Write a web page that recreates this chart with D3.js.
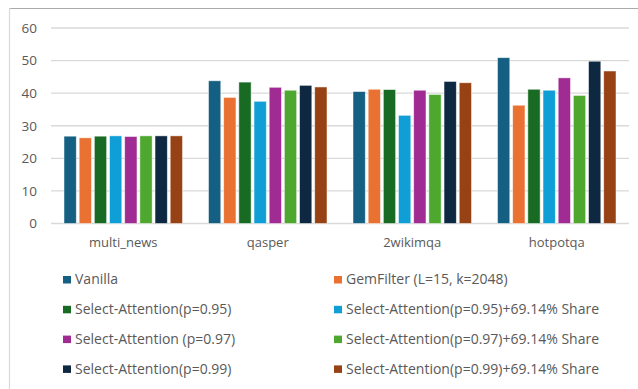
<!DOCTYPE html>
<html>
<head>
<meta charset="utf-8">
<script src="https://cdn.jsdelivr.net/npm/d3@7"></script>
<style>
  html, body { margin: 0; padding: 0; background: #fff; }
  svg { display: block; }
  text { font-family: "Open Sans", "Liberation Sans", sans-serif; fill: #595959; }
</style>
</head>
<body>
<svg id="chart" width="638" height="389"></svg>
<script>
// Datasets on the x axis
const datasets = ["multi_news", "qasper", "2wikimqa", "hotpotqa"];

// Method names (legend order = bar order within each group)
const methods = [
  "Vanilla",
  "GemFilter (L=15, k=2048)",
  "Select-Attention(p=0.95)",
  "Select-Attention(p=0.95)+69.14% Share",
  "Select-Attention (p=0.97)",
  "Select-Attention(p=0.97)+69.14% Share",
  "Select-Attention(p=0.99)",
  "Select-Attention(p=0.99)+69.14% Share"
];

// Scores per method, one value per dataset
const vanilla      = [26.8, 43.8, 40.5, 50.9];
const gemFilter    = [26.3, 38.7, 41.2, 36.3];
const sa095        = [26.8, 43.4, 41.1, 41.2];
const sa095Share   = [26.9, 37.5, 33.2, 40.9];
const sa097        = [26.7, 41.8, 40.9, 44.7];
const sa097Share   = [26.9, 40.9, 39.6, 39.3];
const sa099        = [26.9, 42.4, 43.6, 49.8];
const sa099Share   = [26.9, 41.9, 43.2, 46.8];

const yTicks = [0, 10, 20, 30, 40, 50, 60];

const colors = ["#156082", "#E97132", "#196B24", "#0F9ED5",
                "#A02B93", "#4EA72E", "#0E2841", "#974214"];

const seriesValues = [vanilla, gemFilter, sa095, sa095Share, sa097, sa097Share, sa099, sa099Share];

const svg = d3.select("#chart");
const font = "'Open Sans', 'Liberation Sans', sans-serif";

// Chart frame
svg.append("line").attr("x1", 9.5).attr("x2", 638).attr("y1", 8.5).attr("y2", 8.5)
  .attr("stroke", "#ababab").attr("stroke-width", 1);
svg.append("line").attr("x1", 9.5).attr("x2", 9.5).attr("y1", 8.5).attr("y2", 389)
  .attr("stroke", "#d9d9d9").attr("stroke-width", 1.2);

const plotLeft = 51, plotRight = 629, plotTop = 28, plotBottom = 223.5;

const x0 = d3.scaleBand().domain(datasets).range([plotLeft, plotRight])
  .paddingInner(0.18).paddingOuter(0.09);
const x1 = d3.scaleBand().domain(d3.range(methods.length)).range([0, x0.bandwidth()])
  .paddingInner(0.19).paddingOuter(0);
const y = d3.scaleLinear().domain([0, 60]).range([plotBottom, plotTop]);

// Gridlines
svg.append("g").selectAll("line").data(yTicks).join("line")
  .attr("x1", plotLeft).attr("x2", plotRight)
  .attr("y1", d => y(d)).attr("y2", d => y(d))
  .attr("stroke", "#d9d9d9").attr("stroke-width", 1.3);

// Y axis labels
const yAxis = d3.axisLeft(y).tickValues(yTicks).tickSize(0).tickPadding(0);
const yg = svg.append("g").attr("transform", `translate(37,0)`).call(yAxis);
yg.select(".domain").remove();
yg.selectAll("text").attr("font-size", 13.5).style("fill", "#595959")
  .style("font-family", font);

// X axis labels
const xAxis = d3.axisBottom(x0).tickSize(0).tickPadding(0);
const xg = svg.append("g").attr("transform", `translate(0,${plotBottom + 14})`).call(xAxis);
xg.select(".domain").remove();
xg.selectAll("text").attr("font-size", 13).attr("dy", "0.71em").style("fill", "#595959")
  .style("font-family", font);

// Bars
const groups = svg.append("g").selectAll("g").data(datasets).join("g")
  .attr("transform", d => `translate(${x0(d)},0)`);
groups.selectAll("rect")
  .data((d, i) => seriesValues.map((s, m) => ({ m, v: s[i] })))
  .join("rect")
  .attr("x", d => x1(d.m))
  .attr("width", x1.bandwidth())
  .attr("y", d => y(d.v))
  .attr("height", d => y(0) - y(d.v))
  .attr("fill", d => colors[d.m])
  .attr("stroke", "#ffffff").attr("stroke-opacity", 0.6).attr("stroke-width", 0.8);

// Legend: two columns, four rows
const legend = svg.append("g");
const legendItems = legend.selectAll("g").data(methods).join("g")
  .attr("transform", (d, i) => `translate(${i % 2 === 0 ? 63 : 334},${279.5 + Math.floor(i / 2) * 29.8})`);
legendItems.append("rect")
  .attr("x", 0).attr("y", -3.5).attr("width", 8).attr("height", 7.5)
  .attr("fill", (d, i) => colors[i]);
legendItems.append("text")
  .attr("x", 12).attr("y", 0).attr("dy", "0.35em")
  .attr("font-size", 14)
  .text(d => d);
</script>
</body>
</html>
